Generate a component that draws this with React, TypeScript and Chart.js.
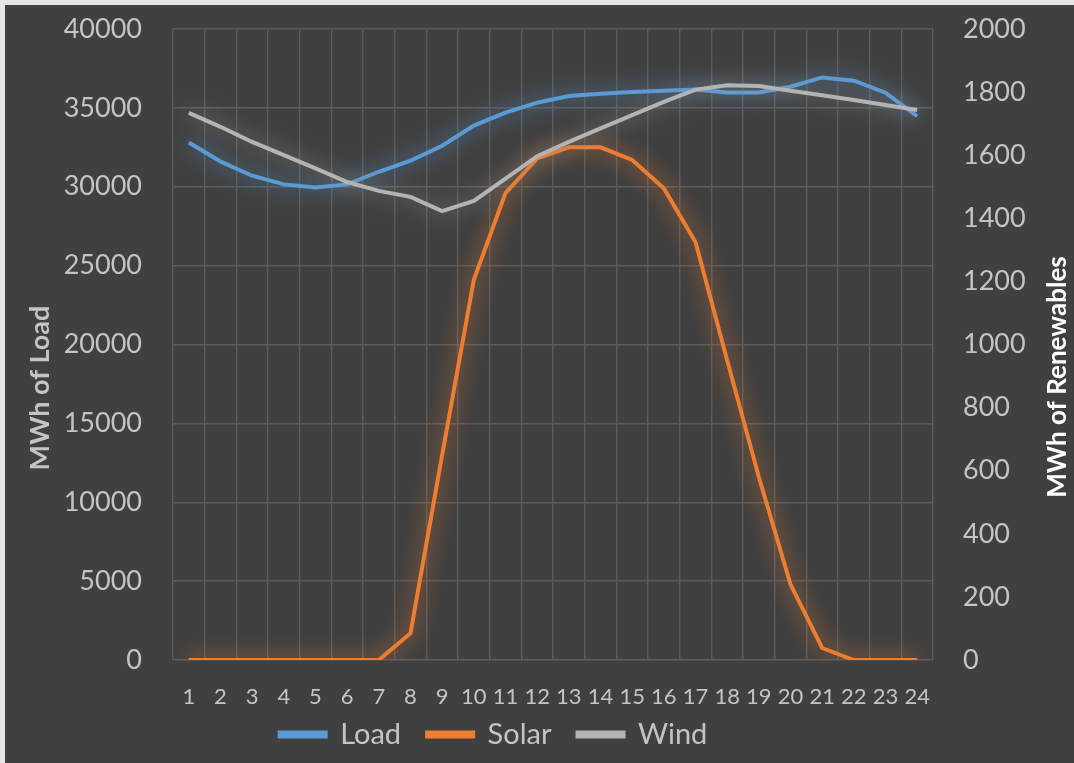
import React, { useEffect, useRef } from "react";
import { Chart, registerables } from "chart.js";

Chart.register(...registerables);

const hours = ["1", "2", "3", "4", "5", "6", "7", "8", "9", "10", "11", "12", "13", "14", "15", "16", "17", "18", "19", "20", "21", "22", "23", "24"];
const loadMWh = [32800, 31600, 30700, 30150, 29950, 30150, 30950, 31650, 32600, 33880, 34700, 35330, 35750, 35900, 36000, 36080, 36170, 35980, 35980, 36340, 36930, 36720, 35960, 34470];
const solarMWh = [0, 0, 0, 0, 0, 0, 0, 85, 650, 1205, 1480, 1590, 1625, 1625, 1585, 1495, 1325, 950, 580, 240, 38, 0, 0, 0];
const windMWh = [1734, 1690, 1642, 1600, 1558, 1515, 1487, 1468, 1423, 1455, 1526, 1597, 1642, 1685, 1727, 1769, 1808, 1822, 1819, 1804, 1790, 1775, 1759, 1743];
const leftTitle = "MWh of Load";
const rightTitle = "MWh of Renewables";

const FONT = "Lato, 'Open Sans', sans-serif";
const TICK_COLOR = "#c4c4c4";

const glowPlugin = {
  id: "glow",
  beforeDatasetDraw(chart: any, args: any) {
    const ctx = chart.ctx;
    const ds = chart.data.datasets[args.index];
    ctx.save();
    ctx.shadowColor = ds.glowColor;
    ctx.shadowBlur = 20;
    ctx.shadowOffsetX = 0;
    ctx.shadowOffsetY = 0;
  },
  afterDatasetDraw(chart: any) {
    chart.ctx.restore();
  },
};

const titlesPlugin = {
  id: "axisTitles",
  afterLayout(chart: any) {
    const lg = chart.legend;
    if (lg) {
      lg.left -= 46;
      lg.right -= 46;
      lg.top -= 16;
      lg.bottom -= 16;
    }
  },
  afterDraw(chart: any) {
    const ctx = chart.ctx;
    ctx.save();
    ctx.textAlign = "center";
    ctx.textBaseline = "middle";
    ctx.font = `bold 27px ${FONT}`;
    ctx.fillStyle = "#c4c4c4";
    ctx.translate(35, 383);
    ctx.rotate(-Math.PI / 2);
    ctx.fillText(leftTitle, 0, 0);
    ctx.restore();
    ctx.save();
    ctx.textAlign = "center";
    ctx.textBaseline = "middle";
    ctx.font = `bold 26px ${FONT}`;
    ctx.fillStyle = "#ffffff";
    ctx.translate(1053, 372);
    ctx.rotate(-Math.PI / 2);
    ctx.fillText(rightTitle, 0, 0);
    ctx.restore();
  },
};

export default function App() {
  const ref = useRef<HTMLCanvasElement>(null);

  useEffect(() => {
    if (!ref.current) return;
    const chart = new Chart(ref.current, {
      type: "line",
      data: {
        labels: hours,
        datasets: [
          {
            label: "Load",
            data: loadMWh,
            yAxisID: "y",
            borderColor: "#5b9bd5",
            backgroundColor: "#5b9bd5",
            glowColor: "rgba(91,155,213,1)",
            borderWidth: 4,
            pointRadius: 0,
            tension: 0,
            order: 2,
          } as any,
          {
            label: "Solar",
            data: solarMWh,
            yAxisID: "y1",
            borderColor: "#ed7d31",
            backgroundColor: "#ed7d31",
            glowColor: "rgba(237,125,49,1)",
            borderWidth: 4,
            pointRadius: 0,
            tension: 0,
            order: 1,
          } as any,
          {
            label: "Wind",
            data: windMWh,
            yAxisID: "y1",
            borderColor: "#b4b4b4",
            backgroundColor: "#b4b4b4",
            glowColor: "rgba(150,150,150,0.9)",
            borderWidth: 4,
            pointRadius: 0,
            tension: 0,
            order: 0,
          } as any,
        ],
      },
      options: {
        responsive: false,
        animation: false,
        devicePixelRatio: 1,
        layout: { padding: { top: 24, left: 0, right: 0, bottom: -12 } },
        plugins: {
          tooltip: { enabled: false },
          legend: {
            position: "bottom",
            labels: {
              color: TICK_COLOR,
              font: { family: FONT, size: 29 },
              boxWidth: 46,
              boxHeight: 4,
              padding: 26,
              sort: (a: any, b: any) => a.datasetIndex - b.datasetIndex,
            },
          },
        },
        scales: {
          x: {
            type: "category",
            offset: true,
            grid: { offset: true, color: "#5c5c5c", lineWidth: 1.4, drawTicks: false },
            border: { display: false },
            ticks: {
              color: TICK_COLOR,
              font: { family: FONT, size: 22 },
              maxRotation: 0,
              autoSkip: false,
              padding: 24,
            },
            afterFit(scale: any) {
              scale.height = 50;
            },
          },
          y: {
            position: "left",
            min: 0,
            max: 40000,
            grid: { color: "#5c5c5c", lineWidth: 1.4, drawTicks: false },
            border: { display: false },
            ticks: {
              stepSize: 5000,
              color: TICK_COLOR,
              font: { family: FONT, size: 27 },
              padding: 31,
              callback: (v: any) => String(v),
            },
            afterFit(scale: any) {
              scale.width = 168;
              scale.paddingTop = 0;
              scale.paddingBottom = 0;
            },
          },
          y1: {
            position: "right",
            min: 0,
            max: 2000,
            grid: { display: false, drawTicks: false },
            border: { display: false },
            ticks: {
              stepSize: 200,
              color: TICK_COLOR,
              font: { family: FONT, size: 27 },
              padding: 30,
              callback: (v: any) => String(v),
            },
            afterFit(scale: any) {
              scale.width = 141;
              scale.paddingTop = 0;
              scale.paddingBottom = 0;
            },
          },
        },
      } as any,
      plugins: [glowPlugin, titlesPlugin],
    });
    return () => chart.destroy();
  }, []);

  return (
    <div style={{ position: "fixed", inset: 0, background: "#e6e6e6" }}>
      <div style={{ position: "absolute", left: 5, top: 5, width: 1069, height: 758 }}>
        <canvas ref={ref} width={1069} height={758} style={{ display: "block", background: "#404040" }} />
      </div>
    </div>
  );
}
